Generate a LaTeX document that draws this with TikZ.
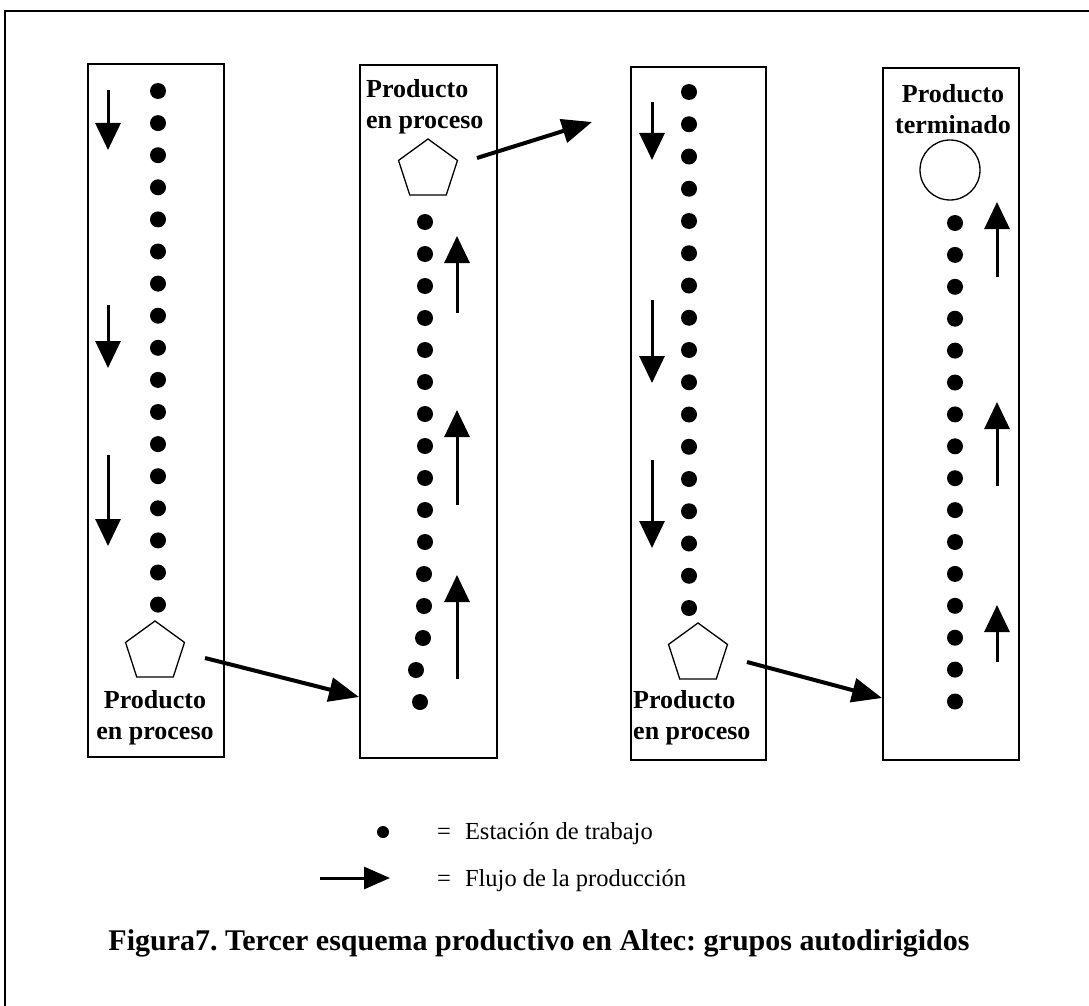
\documentclass[tikz,border=0pt]{standalone}
\usepackage{fontspec}
\setmainfont{Liberation Serif}
\usetikzlibrary{arrows.meta,shapes.geometric}
\frenchspacing
\begin{document}
\begin{tikzpicture}[x=1pt,y=-1pt,
  colbox/.style={draw, line width=1.5pt, inner sep=0pt, minimum width=136pt, minimum height=693pt},
  station/.style={circle, fill=black, inner sep=0pt, minimum size=16pt},
  pent/.style={regular polygon, regular polygon sides=5, draw, line width=1.3pt, inner sep=0pt, minimum size=62pt},
  lbl/.style={font=\fontsize{26}{31}\selectfont\bfseries, inner sep=0pt},
  flow/.style={line width=3pt, -{Triangle[width=25pt,length=27pt]}},
  link/.style={line width=4pt, -{Triangle[width=24pt,length=30pt]}},
  legtxt/.style={anchor=base west, font=\fontsize{24.5}{28}\selectfont, inner sep=0pt}
]
\useasboundingbox (0,0) rectangle (1089,1006);
% outer frame (partially visible)
\coordinate (fr1) at (5,1006); \coordinate (fr2) at (5,11); \coordinate (fr3) at (1089,11);
\draw[line width=2.8pt] (fr1) -- (fr2) -- (fr3);

% column boxes
\node[colbox] (box1) at (156,410.5) {};
\node[colbox, minimum width=137pt] (box2) at (428.5,411.5) {};
\node[colbox, minimum width=135pt] (box3) at (698.5,413.5) {};
\node[colbox, minimum height=692pt] (box4) at (951,414) {};

% column 1 stations
\foreach \i in {0,...,16} \node[station] (a\i) at (158,91+32.1*\i) {};
% column 2 stations
\foreach \i/\x in {0/425,1/425,2/425,3/425,4/425,5/425,6/425,7/425,8/425,9/425,10/425,11/424,12/424,13/423,14/416,15/420}
  \node[station] (b\i) at (\x,222+32*\i) {};
% column 3 stations
\foreach \i in {0,...,16} \node[station] (c\i) at (689,92+32.25*\i) {};
% column 4 stations
\foreach \i in {0,...,15} \node[station] (d\i) at (955,223+31.9*\i) {};

% products
\node[pent] (p1) at (155,652) {};
\node[pent] (p2) at (428,170) {};
\node[pent] (p3) at (698,654) {};
\node[circle, draw, line width=1.3pt, minimum size=60pt, inner sep=0pt] (pt) at (950,170) {};

% labels
\node[lbl, align=center] (l1) at (155,718) {Producto\\en proceso};
\node[lbl, align=left, anchor=west] (l2) at (366,107) {Producto\\en proceso};
\node[lbl, align=left, anchor=west] (l3) at (633,718) {Producto\\en proceso};
\node[lbl, align=center] (l4) at (953,109) {Producto\\terminado};

% flow arrows inside columns
\coordinate (f1a) at (108,90);  \coordinate (f1b) at (108,150);
\coordinate (f2a) at (108,305); \coordinate (f2b) at (108,368);
\coordinate (f3a) at (108,455); \coordinate (f3b) at (108,546);
\draw[flow] (f1a) -- (f1b); \draw[flow] (f2a) -- (f2b); \draw[flow] (f3a) -- (f3b);

\coordinate (g1a) at (457,313); \coordinate (g1b) at (457,236);
\coordinate (g2a) at (457,505); \coordinate (g2b) at (457,410);
\coordinate (g3a) at (457,679); \coordinate (g3b) at (457,575);
\draw[flow] (g1a) -- (g1b); \draw[flow] (g2a) -- (g2b); \draw[flow] (g3a) -- (g3b);

\coordinate (h1a) at (652,102); \coordinate (h1b) at (652,160);
\coordinate (h2a) at (652,300); \coordinate (h2b) at (652,383);
\coordinate (h3a) at (652,460); \coordinate (h3b) at (652,548);
\draw[flow] (h1a) -- (h1b); \draw[flow] (h2a) -- (h2b); \draw[flow] (h3a) -- (h3b);

\coordinate (k1a) at (997,277); \coordinate (k1b) at (997,202);
\coordinate (k2a) at (997,486); \coordinate (k2b) at (997,402);
\coordinate (k3a) at (997,662); \coordinate (k3b) at (997,605);
\draw[flow] (k1a) -- (k1b); \draw[flow] (k2a) -- (k2b); \draw[flow] (k3a) -- (k3b);

% links between columns
\coordinate (c1s) at (205,658); \coordinate (c1e) at (359,697);
\draw[link] (c1s) -- (c1e);
\coordinate (c2s) at (477,158); \coordinate (c2e) at (592,122);
\draw[link] (c2s) -- (c2e);
\coordinate (c3s) at (747,662); \coordinate (c3e) at (882,698);
\draw[link] (c3s) -- (c3e);

% legend
\node[station, minimum size=12pt] (legdot) at (383,832) {};
\node[legtxt] (leg1) at (437,839) {=\hspace{14pt}Estación de trabajo};
\coordinate (las) at (320,878); \coordinate (lae) at (390,878);
\draw[line width=3pt, -{Triangle[width=22pt,length=26pt]}] (las) -- (lae);
\node[legtxt] (leg2) at (437,886) {=\hspace{14pt}Flujo de la producción};

% caption
\node[anchor=base, font=\fontsize{30}{34}\selectfont\bfseries, inner sep=0pt] (cap) at (539,950) {Figura7. Tercer esquema productivo en Altec: grupos autodirigidos};
\end{tikzpicture}
\end{document}
